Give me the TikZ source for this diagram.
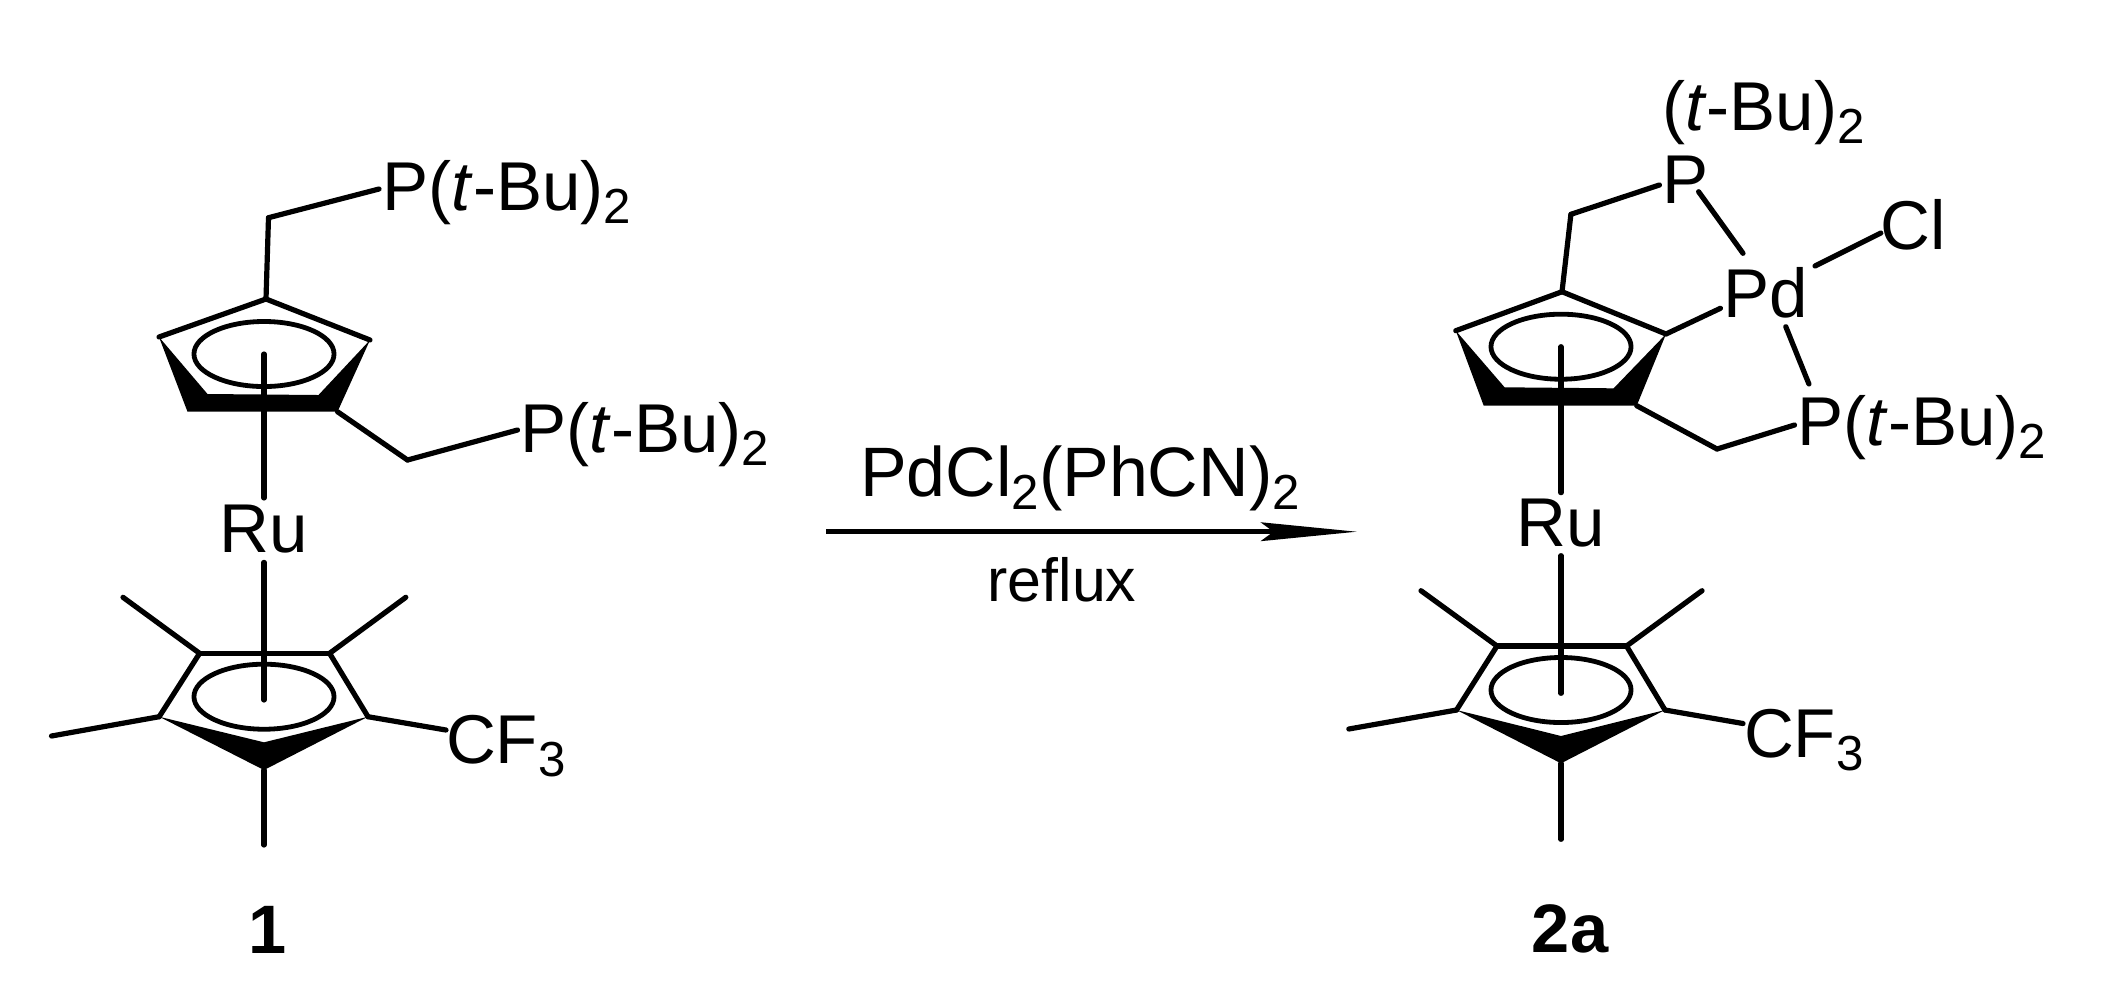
\documentclass[tikz,border=0pt]{standalone}
\usepackage{fontspec}
\setmainfont{Liberation Sans}
\usetikzlibrary{arrows.meta}
\newcommand{\subnum}[1]{\raisebox{-3.7pt}{\fontsize{14}{14}\selectfont #1}}
\begin{document}
\begin{tikzpicture}[x=0.01cm, y=-0.01cm,
    atom/.style={font=\fontsize{19.65}{22}\selectfont, inner sep=0pt, outer sep=0pt},
    bond/.style={line width=0.052cm, line cap=round, line join=round},
    ring/.style={line width=0.048cm},
    compound/.style={font=\fontsize{19.5}{22}\selectfont\bfseries, inner sep=0pt, outer sep=0pt, anchor=base}]
  \useasboundingbox (0,0) rectangle (2103,999);
  \coordinate (AT) at (266, 299);
  \coordinate (AL) at (159, 337);
  \coordinate (AR) at (370, 340);
  \coordinate (ABL) at (187.5, 411.7);
  \coordinate (ABR) at (337.5, 411.7);
  \coordinate (AIL) at (207.5, 394);
  \coordinate (AIR) at (318.5, 395);
  \coordinate (AC) at (264, 354);
  \coordinate (ACH1) at (268.5, 217.7);
  \coordinate (ACH2) at (407.5, 460);
  \coordinate (AD) at (264, 700);
  \coordinate (AUL) at (199.6, 653.3);
  \coordinate (AUR) at (329.6, 653.3);
  \coordinate (ALL) at (159.2, 716.7);
  \coordinate (ARR) at (368, 716.7);
  \coordinate (ABT) at (264, 770);
  \coordinate (AIN) at (264, 742.3);
  \coordinate (AE) at (264, 696.7);
  \coordinate (AM1) at (123, 597.3);
  \coordinate (AM2) at (405.8, 597.3);
  \coordinate (AM3) at (51.5, 736);
  \coordinate (AM4) at (264, 845);
  \node[atom, anchor=base west] (AP1) at (382.5, 210) {P(\textit{t}-Bu)\subnum{2}};
  \node[atom, anchor=base west] (AP2) at (520.5, 452) {P(\textit{t}-Bu)\subnum{2}};
  \node[atom, anchor=base] (ARu) at (264, 552) {Ru};
  \node[atom, anchor=base west] (ACF) at (446, 763) {CF\subnum{3}};
  \node[compound] (A1) at (268, 953) {1};
  \fill (AL) -- (ABL) -- (ABR) -- (AR) -- (AIR) -- (AIL) -- cycle;
  \fill (ALL) -- (ABT) -- (ARR) -- (AIN) -- cycle;
  \draw[bond] (AL) -- (AT);
  \draw[bond] (AT) -- (AR);
  \draw[bond] (AT) -- (ACH1);
  \draw[bond] (ACH1) -- ([shift={(-3.5,-21)}]AP1.base west);
  \draw[bond] (ABR) -- (ACH2);
  \draw[bond] (ACH2) -- ([shift={(-3,-22)}]AP2.base west);
  \draw[bond] (AC) -- ([shift={(0,-6.5)}]ARu.north);
  \draw[bond] ([shift={(0,9.7)}]ARu.south) -- (AD);
  \draw[ring] (AC) ellipse [x radius=0.7cm, y radius=0.325cm];
  \draw[bond] (ALL) -- (AUL);
  \draw[bond] (AUL) -- (AUR);
  \draw[bond] (AUR) -- (ARR);
  \draw[bond] (AUL) -- (AM1);
  \draw[bond] (AUR) -- (AM2);
  \draw[bond] (ALL) -- (AM3);
  \draw[bond] (ABT) -- (AM4);
  \draw[bond] (ARR) -- ([shift={(0,-33)}]ACF.base west);
  \draw[ring] (AE) ellipse [x radius=0.7cm, y radius=0.325cm];
  \coordinate (RS) at (826, 531.7);
  \coordinate (RE) at (1356.5, 531.7);
  \node[atom, anchor=base west, font=\fontsize{19.9}{22}\selectfont] (RA) at (860, 496) {PdCl\subnum{2}(PhCN)\subnum{2}};
  \node[atom, anchor=base, font=\fontsize{17.3}{20}\selectfont] (RB) at (1062, 601) {reflux};
  \draw[line width=0.05cm, -{Stealth[length=0.96cm, width=0.19cm, inset=0.13cm, line width=0pt]}] (RS) -- (RE);
  \coordinate (BT) at (1562, 291.7);
  \coordinate (BL) at (1455.8, 330.7);
  \coordinate (BR) at (1666, 334);
  \coordinate (BBL) at (1483.7, 405.7);
  \coordinate (BBR) at (1636.7, 405.7);
  \coordinate (BIL) at (1504.6, 387.3);
  \coordinate (BIR) at (1613.6, 388.3);
  \coordinate (BC) at (1561, 346.7);
  \coordinate (BCH1) at (1570.9, 214.3);
  \coordinate (BCH2) at (1717, 449);
  \coordinate (BD) at (1561, 693.3);
  \coordinate (BUL) at (1497, 646);
  \coordinate (BUR) at (1626.5, 646);
  \coordinate (BLL) at (1456.5, 710);
  \coordinate (BRR) at (1665, 710);
  \coordinate (BBT) at (1561, 763.3);
  \coordinate (BIN) at (1561, 736);
  \coordinate (BE) at (1561, 690);
  \coordinate (BM1) at (1421, 590.7);
  \coordinate (BM2) at (1702, 590.7);
  \coordinate (BM3) at (1348.8, 729);
  \coordinate (BM4) at (1561, 839.3);
  \node[atom, anchor=base west] (BB) at (1662, 130) {(\textit{t}-Bu)\subnum{2}};
  \node[atom, anchor=base west] (BP1) at (1662, 203.7) {P};
  \node[atom, anchor=base west] (BPd) at (1723.8, 317) {Pd};
  \node[atom, anchor=base west] (BCl) at (1880.6, 249) {Cl};
  \node[atom, anchor=base west] (BP2) at (1797.4, 445) {P(\textit{t}-Bu)\subnum{2}};
  \node[atom, anchor=base] (BRu) at (1561, 546.7) {Ru};
  \node[atom, anchor=base west] (BCF) at (1744, 757.5) {CF\subnum{3}};
  \node[compound] (B2) at (1570, 952) {2a};
  \fill (BL) -- (BBL) -- (BBR) -- (BR) -- (BIR) -- (BIL) -- cycle;
  \fill (BLL) -- (BBT) -- (BRR) -- (BIN) -- cycle;
  \draw[bond] (BL) -- (BT);
  \draw[bond] (BT) -- (BR);
  \draw[bond] (BT) -- (BCH1);
  \draw[bond] (BCH1) -- ([shift={(-2.6,-18.7)}]BP1.base west);
  \draw[bond] ([shift={(36.6,-12)}]BP1.base west) -- ([shift={(19.2,-63.7)}]BPd.base west);
  \draw[bond] ([shift={(91.2,-51)}]BPd.base west) -- ([shift={(0.2,-16)}]BCl.base west);
  \draw[bond] (BR) -- ([shift={(-3.4,-8.7)}]BPd.base west);
  \draw[bond] ([shift={(62,9.7)}]BPd.base west) -- ([shift={(11.5,-61)}]BP2.base west);
  \draw[bond] (BBR) -- (BCH2);
  \draw[bond] (BCH2) -- ([shift={(-2.9,-20)}]BP2.base west);
  \draw[bond] (BC) -- ([shift={(0,-6.5)}]BRu.north);
  \draw[bond] ([shift={(0,8.3)}]BRu.south) -- (BD);
  \draw[ring] (BC) ellipse [x radius=0.7cm, y radius=0.325cm];
  \draw[bond] (BLL) -- (BUL);
  \draw[bond] (BUL) -- (BUR);
  \draw[bond] (BUR) -- (BRR);
  \draw[bond] (BUL) -- (BM1);
  \draw[bond] (BUR) -- (BM2);
  \draw[bond] (BLL) -- (BM3);
  \draw[bond] (BBT) -- (BM4);
  \draw[bond] (BRR) -- ([shift={(-1,-34)}]BCF.base west);
  \draw[ring] (BE) ellipse [x radius=0.7cm, y radius=0.325cm];
\end{tikzpicture}
\end{document}
